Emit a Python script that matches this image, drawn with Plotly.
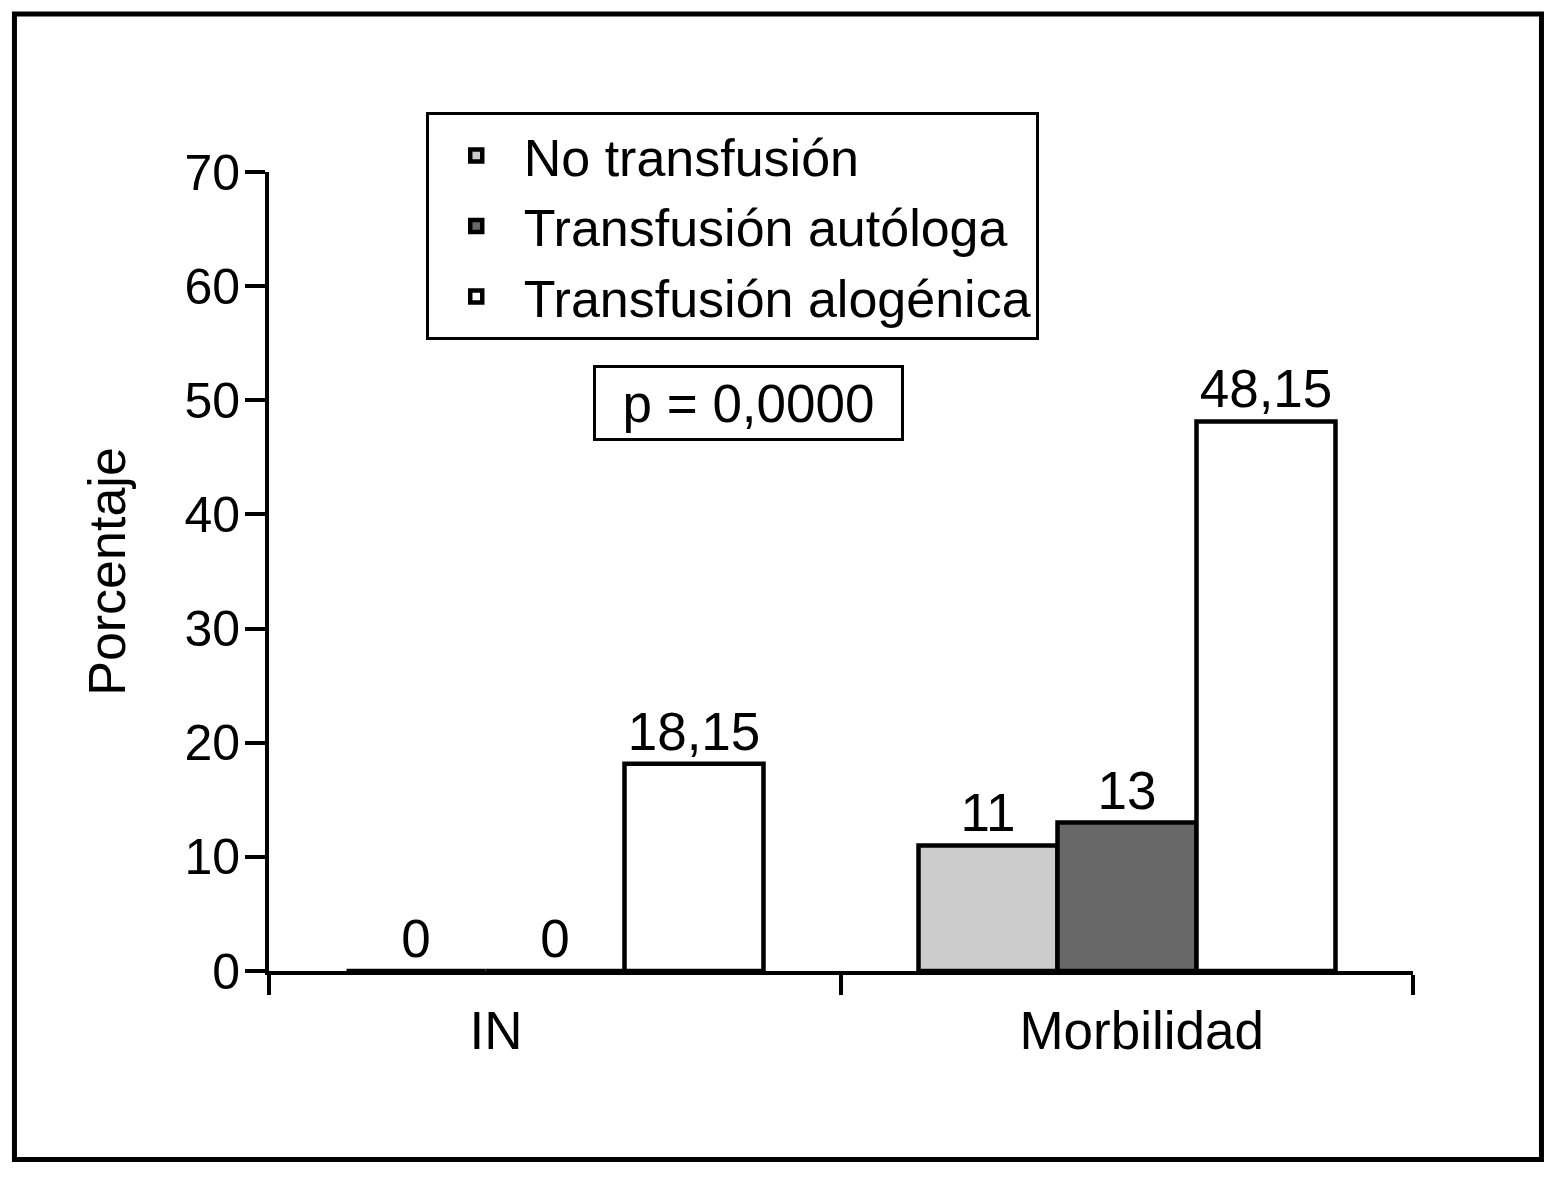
import plotly.graph_objects as go

categories = ["IN", "Morbilidad"]
category_labels = ["IN" + "\u00a0" * 8, "\u00a0\u00a0Morbilidad"]
no_transfusion = [0, 11]
autologa = [0, 13]
alogenica = [18.15, 48.15]
labels_no = ["0", "11"]
labels_auto = ["0", "13"]
labels_alo = ["18,15", "48,15"]
series_names = ["No transfusión", "Transfusión autóloga", "Transfusión alogénica"]
y_ticks = [0, 10, 20, 30, 40, 50, 60, 70]

FONT = "Liberation Sans, Arial, Helvetica, sans-serif"
colors = ["#cccccc", "#686868", "#ffffff"]

fig = go.Figure()
for name, vals, labs, col in zip(series_names, [no_transfusion, autologa, alogenica],
                                 [labels_no, labels_auto, labels_alo], colors):
    fig.add_trace(go.Bar(
        x=categories, y=vals, name=name, text=labs,
        textposition="outside", constraintext="none", cliponaxis=False,
        textfont=dict(size=53, color="black", family=FONT),
        marker=dict(color=col, line=dict(color="black", width=4.5)),
    ))

fig.update_layout(
    width=1559, height=1179,
    margin=dict(l=261, r=154, t=164, b=216),
    paper_bgcolor="white", plot_bgcolor="white",
    barmode="group", bargap=0.271, bargroupgap=0,
    font=dict(family=FONT, color="black", size=50),
    legend=dict(
        x=0.137, y=1.075, xanchor="left", yanchor="top",
        bordercolor="black", borderwidth=3, bgcolor="white",
        font=dict(size=52, family=FONT, color="black"),
        itemwidth=85, tracegroupgap=0,
    ),
    showlegend=True,
)
fig.update_xaxes(
    tickmode="array", tickvals=categories, ticktext=category_labels,
    showline=True, linecolor="black", linewidth=4,
    ticks="outside", tickson="boundaries", ticklen=20, tickwidth=4, tickcolor="black",
    tickfont=dict(size=53, family=FONT, color="black"), ticklabelstandoff=10,
    showgrid=False, zeroline=False,
)
fig.update_yaxes(
    range=[0, 70], tickvals=y_ticks,
    showline=True, linecolor="black", linewidth=4,
    ticks="outside", ticklen=20, tickwidth=4, tickcolor="black",
    tickfont=dict(size=50, family=FONT, color="black"), ticklabelstandoff=-5,
    showgrid=False, zeroline=False,
    title=dict(text="Porcentaje", font=dict(size=52, family=FONT, color="black"), standoff=43),
)
fig.add_annotation(
    xref="paper", yref="paper", x=0.419, y=0.711, xanchor="center", yanchor="middle",
    text="p = 0,0000", showarrow=False,
    font=dict(size=53, family=FONT, color="black"),
    bordercolor="black", borderwidth=3, borderpad=0, width=305, height=70,
    bgcolor="white",
)
fig.add_shape(
    type="rect", xref="paper", yref="paper",
    x0=-0.2225, x1=1.1123, y0=-0.2359, y1=1.1977,
    line=dict(color="black", width=5), fillcolor="rgba(0,0,0,0)", layer="below",
)
fig.write_html("out.html")
